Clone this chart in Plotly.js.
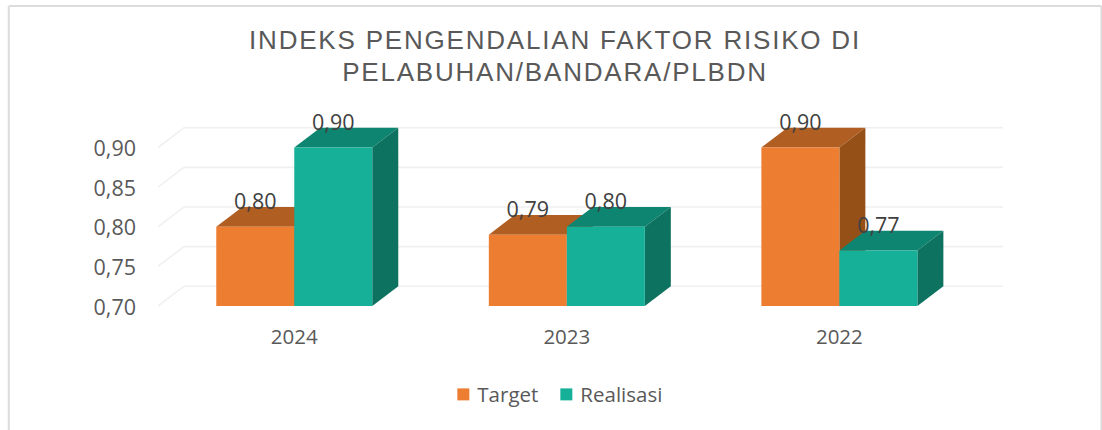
<!DOCTYPE html>
<html>
<head>
<meta charset="utf-8">
<script src="https://cdn.plot.ly/plotly-3.0.1.min.js"></script>
<style>
html,body{margin:0;padding:0;background:#fff;overflow:hidden}
#chart{width:1102px;height:430px}
.gtitle{letter-spacing:1.8px}
.legendbar path{stroke-width:2px !important}
.legendtext{transform:translateX(-6px)}
#chart .legend .scrollbox{clip-path:none !important}
</style>
</head>
<body>
<div id="chart"></div>
<script>
const categories = ['2024', '2023', '2022'];
const target = [0.80, 0.79, 0.90];
const realisasi = [0.90, 0.80, 0.77];
const gridValues = [0.70, 0.75, 0.80, 0.85, 0.90];
const titleText = 'INDEKS PENGENDALIAN FAKTOR RISIKO DI<br>PELABUHAN/BANDARA/PLBDN';

const positions = categories.map((_, i) => i);
const barWidth = 0.2862, depthX = 0.0954, depthY = 0.025, baseY = 0.70, topY = 0.96;
const labelLift = 0.029, xEnd = 2.5 + depthX + 0.005;

const plotL = 157.7, plotR = 1002.6, plotT = 100.3, plotB = 305.7;
const px = v => (v - plotL) / (plotR - plotL);
const py = v => (plotB - v) / (plotB - plotT);

function poly(pts, color) {
  return {
    type: 'path', xref: 'x', yref: 'y', layer: 'below',
    path: 'M' + pts.map(p => p[0] + ',' + p[1]).join('L') + 'Z',
    fillcolor: color, line: {width: 0}
  };
}
function faces(values, offset, topColor, sideColor) {
  const out = [];
  values.forEach((v, i) => {
    const a = positions[i] + offset, b = a + barWidth;
    out.push(poly([[a, v], [a + depthX, v + depthY], [b + depthX, v + depthY], [b, v]], topColor));
    out.push(poly([[b, v], [b + depthX, v + depthY], [b + depthX, baseY + depthY], [b, baseY]], sideColor));
  });
  return out;
}
const gridShapes = gridValues.map(g => ({
  type: 'path', xref: 'x', yref: 'y', layer: 'below',
  path: `M-0.5,${g}L${-0.5 + depthX},${g + depthY}L${xEnd},${g + depthY}`,
  line: {color: '#f0f0f0', width: 1.6}
}));
const frame = [[8.5, 6.5, 1101, 6.5], [8.5, 6.5, 8.5, 430], [1101, 6.5, 1101, 430]].map(l => ({
  type: 'line', xref: 'paper', yref: 'paper', layer: 'below',
  x0: px(l[0]), y0: py(l[1]), x1: px(l[2]), y1: py(l[3]),
  line: {color: '#dcdcdc', width: 2}
}));
const shapes = [...frame, ...gridShapes,
  ...faces(target, -barWidth, '#B05E22', '#955017'),
  ...faces(realisasi, 0, '#0E8570', '#0D725F')];

const labelFont = {family: '"Open Sans", sans-serif', size: 21.5, color: '#404040'};
const data = [
  {type: 'bar', name: 'Target', x: positions, y: target, width: barWidth, offset: -barWidth,
   marker: {color: '#ED7D31', line: {color: '#ED7D31', width: 0}}, hoverinfo: 'y'},
  {type: 'bar', name: 'Realisasi', x: positions, y: realisasi, width: barWidth, offset: 0,
   marker: {color: '#15B097', line: {color: '#15B097', width: 0}}, hoverinfo: 'y'},
  {type: 'scatter', mode: 'text', showlegend: false, hoverinfo: 'skip', cliponaxis: false,
   x: positions.map(p => p - barWidth / 2), y: target.map(v => v + labelLift),
   text: target.map(v => v.toFixed(2).replace('.', ',')), textfont: labelFont, textposition: 'middle center'},
  {type: 'scatter', mode: 'text', showlegend: false, hoverinfo: 'skip', cliponaxis: false,
   x: positions.map(p => p + barWidth / 2), y: realisasi.map(v => v + labelLift),
   text: realisasi.map(v => v.toFixed(2).replace('.', ',')), textfont: labelFont, textposition: 'middle center'}
];

const layout = {
  width: 1102, height: 430,
  paper_bgcolor: '#ffffff', plot_bgcolor: 'rgba(0,0,0,0)',
  margin: {l: plotL, r: 1102 - plotR, t: plotT, b: 430 - plotB, pad: 0},
  separators: ', ',
  barmode: 'overlay',
  title: {text: titleText, x: 555 / 1102, xanchor: 'center', y: 0.885, yanchor: 'bottom',
    font: {family: '"Liberation Sans", Arial, sans-serif', size: 26, color: '#595959'}},
  xaxis: {type: 'linear', range: [-0.5, xEnd], tickmode: 'array', tickvals: positions, ticktext: categories,
    showgrid: false, zeroline: false, showline: false, ticks: '', ticklabelstandoff: 16,
    tickfont: {family: '"Open Sans", sans-serif', size: 20.5, color: '#595959'}},
  yaxis: {range: [baseY, topY], tickmode: 'array', tickvals: gridValues, tickformat: '.2f',
    showgrid: false, zeroline: false, showline: false, ticks: '', ticklabelstandoff: 21, ticklabelshift: 1,
    tickfont: {family: '"Open Sans", sans-serif', size: 21.5, color: '#595959'}},
  legend: {orientation: 'h', x: px(443), xanchor: 'left', y: py(394), yanchor: 'middle',
    entrywidth: 58, entrywidthmode: 'pixels',
    itemclick: false, itemdoubleclick: false, traceorder: 'normal',
    font: {family: '"Open Sans", sans-serif', size: 20.5, color: '#595959'}},
  shapes: shapes
};
Plotly.newPlot('chart', data, layout, {displayModeBar: false}).then(() => {
  const second = document.querySelectorAll('.gtitle .line')[1];
  if (second) second.setAttribute('dy', '1.21em');
});
</script>
</body>
</html>
